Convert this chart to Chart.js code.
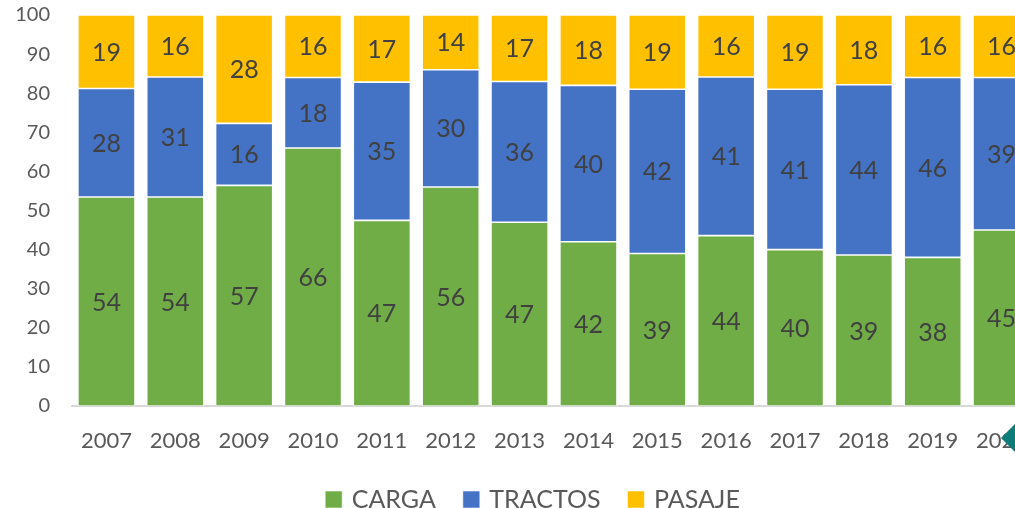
<!DOCTYPE html>
<html>
<head>
<meta charset="utf-8">
<script src="https://cdn.jsdelivr.net/npm/chart.js@4/dist/chart.umd.min.js"></script>
<style>
  html, body { margin: 0; padding: 0; background: #fff; overflow: hidden; }
  #wrap { width: 1072px; height: 522px; }
</style>
</head>
<body>
<div id="wrap"><canvas id="chart"></canvas></div>
<script>
// Data
const years = ['2007', '2008', '2009', '2010', '2011', '2012', '2013', '2014', '2015', '2016', '2017', '2018', '2019', '2020'];
const carga   = [54, 54, 57, 66, 47, 56, 47, 42, 39, 44, 40, 39, 38, 45];
const tractos = [28, 31, 16, 18, 35, 30, 36, 40, 42, 41, 41, 44, 46, 39];
const pasaje  = [19, 16, 28, 16, 17, 14, 17, 18, 19, 16, 19, 18, 16, 16];
const yTicks  = [0, 10, 20, 30, 40, 50, 60, 70, 80, 90, 100];

const FONT = 'Lato, "Open Sans", sans-serif';

// 100% stacked: each column scaled to its own total
const totals = years.map((y, i) => carga[i] + tractos[i] + pasaje[i]);
const pct = arr => arr.map((v, i) => v / totals[i] * 100);

// Labels with the rounded values in the middle of each segment
const segmentLabels = {
    id: 'segmentLabels',
    afterDatasetsDraw(chart) {
        const ctx = chart.ctx;
        ctx.save();
        ctx.font = '25px ' + FONT;
        ctx.fillStyle = '#404040';
        ctx.textAlign = 'center';
        ctx.textBaseline = 'middle';
        chart.data.datasets.forEach((ds, di) => {
            const meta = chart.getDatasetMeta(di);
            meta.data.forEach((bar, i) => {
                ctx.fillText(String(ds.raw[i]), bar.x, (bar.y + bar.base) / 2 + 1);
            });
        });
        ctx.restore();
    },
    afterDraw(chart) {
        // small teal marker at the right edge
        const ctx = chart.ctx;
        ctx.save();
        ctx.fillStyle = '#0E7C7B';
        ctx.beginPath();
        ctx.moveTo(1001, 438);
        ctx.lineTo(1015, 424);
        ctx.lineTo(1029, 438);
        ctx.lineTo(1015, 452);
        ctx.closePath();
        ctx.fill();
        ctx.restore();
    }
};

const ctx = document.getElementById('chart').getContext('2d');
const chart = new Chart(ctx, {
    type: 'bar',
    data: {
        labels: years,
        datasets: [
            { label: 'CARGA', data: pct(carga), raw: carga, backgroundColor: '#70AD47' },
            { label: 'TRACTOS', data: pct(tractos), raw: tractos, backgroundColor: '#4472C4' },
            { label: 'PASAJE', data: pct(pasaje), raw: pasaje, backgroundColor: '#FFC000' }
        ]
    },
    options: {
        responsive: true,
        maintainAspectRatio: false,
        animation: false,
        layout: { padding: { top: 15, left: 0, right: 4, bottom: 0 } },
        datasets: {
            bar: {
                barPercentage: 0.83,
                categoryPercentage: 1,
                borderColor: 'rgba(255,255,255,0.7)',
                borderWidth: 0.8,
                borderSkipped: false
            }
        },
        scales: {
            x: {
                stacked: true,
                afterFit: scale => { scale.height = 51; scale.paddingLeft = 0; scale.paddingRight = 36; },
                grid: { display: false, drawTicks: false },
                border: { display: true, color: '#D9D9D9', width: 2 },
                ticks: { color: '#595959', font: { family: FONT, size: 22 }, padding: 22, maxRotation: 0 }
            },
            y: {
                stacked: true,
                min: 0,
                max: 100,
                afterBuildTicks: scale => { scale.ticks = yTicks.map(v => ({ value: v })); },
                afterFit: scale => { scale.width = 72; scale.paddingTop = 0; scale.paddingBottom = 0; },
                grid: { display: false, drawTicks: false },
                border: { display: false },
                ticks: { color: '#595959', font: { family: FONT, size: 20 }, padding: 22 }
            }
        },
        plugins: {
            legend: {
                position: 'bottom',
                labels: {
                    color: '#595959',
                    font: { family: FONT, size: 25 },
                    usePointStyle: true,
                    pointStyle: 'rect',
                    boxWidth: 11,
                    boxHeight: 17,
                    padding: 30
                }
            },
            tooltip: { enabled: false }
        }
    },
    plugins: [segmentLabels]
});
</script>
</body>
</html>
